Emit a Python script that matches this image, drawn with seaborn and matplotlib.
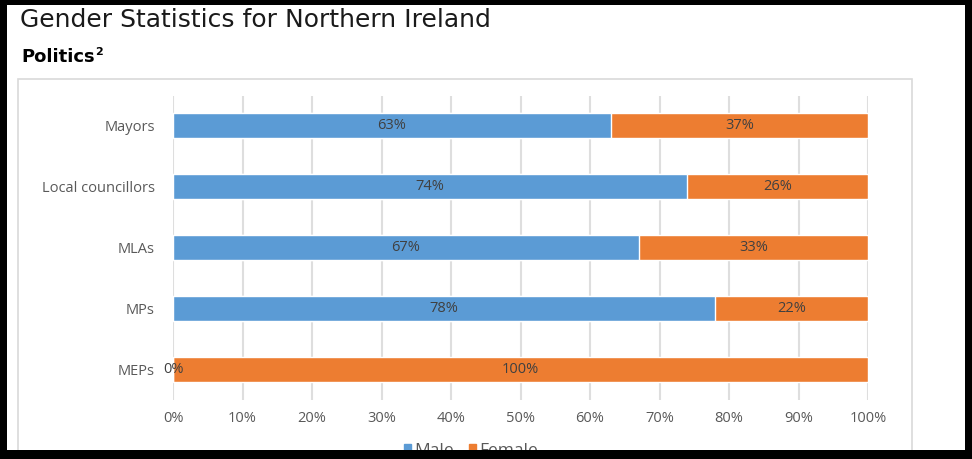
import matplotlib
matplotlib.use("Agg")
import matplotlib.pyplot as plt
from matplotlib.patches import Rectangle
import seaborn as sns
import pandas as pd

# Share of seats held by men and women (%)
roles = ["Mayors", "Local councillors", "MLAs", "MPs", "MEPs"]
male = [63, 74, 67, 78, 0]
female = [37, 26, 33, 22, 100]
x_ticks = [0, 10, 20, 30, 40, 50, 60, 70, 80, 90, 100]
x_tick_labels = [f"{t}%" for t in x_ticks]

MALE_C = "#5B9BD5"
FEMALE_C = "#ED7D31"
LABEL_C = "#404040"
TICK_C = "#595959"
GRID_C = "#D9D9D9"
FS = 10.5

sns.set_theme(style="white")
plt.rcParams["font.family"] = ["Open Sans", "DejaVu Sans"]

df = pd.DataFrame({"role": roles, "male": male, "female": female})
df["total"] = df["male"] + df["female"]

W, H = 972, 459
fig = plt.figure(figsize=(W / 100, H / 100), dpi=100)
fig.patch.set_facecolor("white")

# frame around the chart area
fig.patches.append(Rectangle((18 / W, 0), (912 - 18) / W, 1 - 79 / H,
                             transform=fig.transFigure, facecolor="none",
                             edgecolor=GRID_C, linewidth=1.2, zorder=-1))

ax = fig.add_axes([173 / W, 1 - 399.5 / H, (868 - 173) / W, (399.5 - 95.5) / H])
ax.set_facecolor("none")

# stacked bars: full (male + female) bar underneath, male segment on top
sns.barplot(data=df, y="role", x="total", order=roles, color=FEMALE_C,
            width=0.41, saturation=1, orient="h", ax=ax, zorder=2)
sns.barplot(data=df, y="role", x="male", order=roles, color=MALE_C,
            width=0.41, saturation=1, orient="h", ax=ax, zorder=3)

for i, (m, f) in enumerate(zip(male, female)):
    ax.text(m / 2, i, f"{m}%", ha="center", va="center", fontsize=FS,
            color=LABEL_C, zorder=5)
    ax.text(m + f / 2, i, f"{f}%", ha="center", va="center", fontsize=FS,
            color=LABEL_C, zorder=5)

ax.set_xlim(0, 100)
ax.set_ylim(len(roles) - 0.5, -0.5)
ax.set_xticks(x_ticks)
ax.set_xticklabels(x_tick_labels)
ax.set_xlabel("")
ax.set_ylabel("")
ax.grid(axis="x", color="#DEDEDE", linewidth=1.5, zorder=1)
ax.set_axisbelow(True)
for s in ax.spines.values():
    s.set_visible(False)
ax.tick_params(axis="both", length=0, labelsize=FS, labelcolor=TICK_C)
ax.tick_params(axis="y", pad=13)
ax.tick_params(axis="x", pad=8)

# legend
handles = [Rectangle((0, 0), 1, 1, color=MALE_C), Rectangle((0, 0), 1, 1, color=FEMALE_C)]
fig.legend(handles, ["Male", "Female"], loc="center", ncol=2, frameon=False,
           bbox_to_anchor=(471 / W, 1 - 451 / H), fontsize=12.5, labelcolor=TICK_C,
           handlelength=0.4, handleheight=0.4, handletextpad=0.2, columnspacing=0.9)

# headings
fig.text(20 / W, 1 - 27 / H, "Gender Statistics for Northern Ireland",
         family="DejaVu Sans", fontsize=18, color="#1a1a1a", va="baseline")
sub = fig.text(21 / W, 1 - 62 / H, "Politics", family="DejaVu Sans",
               fontsize=13, fontweight="bold", color="black", va="baseline")
fig.canvas.draw()
bb = sub.get_window_extent()
fig.text(bb.x1 / W + 1 / W, 1 - 55 / H, "2", family="DejaVu Sans",
         fontsize=8, fontweight="bold", color="black", va="baseline")

# black outer border
for (x0, y0, w, h) in [(0, 0, 7, H), (965, 0, 7, H), (0, 0, W, 5), (0, 450, W, 9)]:
    fig.patches.append(Rectangle((x0 / W, 1 - (y0 + h) / H), w / W, h / H,
                                 transform=fig.transFigure, facecolor="black",
                                 edgecolor="none", zorder=10))

fig.savefig("out.png", dpi=100)
